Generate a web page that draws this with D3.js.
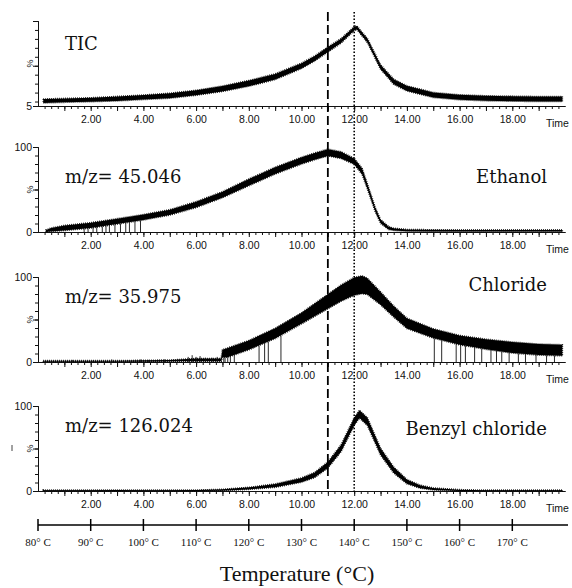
<html>
	<head>
		<script src="https://d3js.org/d3.v7.min.js"></script>
		<style>
			body { margin: 0; background: #fff; }
			svg text { fill: #111; }
		</style>
	</head>

	<body>
		<script>
			// retention time (min) and relative intensity (%)
			var ticTime   = [0.2, 1, 2, 3, 4, 5, 6, 7, 8, 9, 10, 10.5, 11, 11.5, 12, 12.1, 12.5, 13, 13.5, 14, 15, 16, 17, 18, 19, 19.9]
			var ticValue  = [10.6, 11.3, 12, 13.2, 14.7, 16.5, 19.8, 24.3, 30.3, 37.7, 49.9, 58.1, 68.1, 77.8, 91.5, 92.5, 78.2, 48.7, 32.1, 24.7, 17.3, 14.7, 13.6, 13.2, 12.8, 12.8]
			var ticSpread = [2.2, 2.2, 2.2, 2.5, 2.5, 2.8, 2.8, 3, 3.2, 3.2, 3, 2.8, 2.8, 2.5, 2.2, 2, 2.2, 2.5, 2.8, 2.8, 2.8, 2.8, 2.8, 2.8, 2.8, 2.8]

			var ethTime   = [0.3, 0.5, 1, 2, 3, 4, 5, 6, 7, 8, 9, 10, 10.5, 11, 11.5, 12, 12.3, 12.5, 12.8, 13, 13.3, 13.5, 14, 15, 16, 17, 18, 19, 19.9]
			var ethValue  = [0.8, 2.7, 4.7, 7.8, 12.5, 17.3, 23.1, 32.2, 43.9, 58.4, 72.2, 83.9, 89, 93.5, 90.5, 83.1, 71.4, 53.7, 26.3, 12.5, 4.7, 3.1, 2, 1.6, 1.5, 1.5, 1.5, 1.5, 1.5]
			var ethSpread = [1.5, 2, 3, 3.2, 3.2, 3.2, 3.2, 3.5, 3.5, 4, 4, 4, 4, 4, 4, 3.5, 3.5, 3, 2.5, 2.2, 1.8, 1.3, 1, 1, 1, 1, 1, 1, 1]
			var ethDrops  = [1.75, 1.9, 2.09, 2.23, 2.44, 2.58, 2.71, 2.92, 3.13, 3.33, 3.47, 3.68, 3.89]

			var clTime    = [0.2, 1, 2, 3, 4, 5, 5.5, 6, 6.5, 6.95, 7.0, 7.2, 8, 9, 10, 10.5, 11, 11.5, 12, 12.3, 12.5, 13, 13.5, 14, 15, 16, 17, 18, 19, 19.9]
			var clValue   = [1, 1, 1, 1, 1.2, 1.5, 2, 2.5, 2.5, 2.5, 10, 11.1, 19.8, 33.6, 51.4, 61.3, 71.1, 81, 88.9, 90.9, 88.9, 75, 59.3, 45.5, 33.6, 25.7, 20.9, 17, 14.6, 13.8]
			var clSpread  = [0.6, 0.6, 0.6, 0.6, 0.8, 0.8, 1.2, 1.6, 1.6, 1.6, 4.5, 5.5, 5.5, 6, 6.5, 7.5, 8.5, 9.5, 10.5, 10.5, 9.5, 7.5, 6.5, 6, 5.5, 5.5, 6, 6.5, 6.5, 6.5]
			var clDrops   = [7.05, 7.1, 7.2, 7.3, 7.45, 8.39, 8.6, 8.74, 9.22, 15.04, 15.32, 15.87, 16.04, 16.22, 16.57, 16.84, 17.19, 17.4, 17.6, 17.88, 18.23, 18.5, 18.9, 19.3, 19.6]
			var clBlipTime  = [1.3, 2.1, 2.8, 3.4, 3.9, 4.2, 4.8, 5.3, 5.7, 5.85, 6.0, 6.15, 6.35, 6.6, 6.8]
			var clBlipValue = [2.5, 2, 3, 2, 3, 2.5, 3, 3.5, 6, 8, 6, 7, 5, 5, 6]

			var bzTime    = [0.2, 1, 2, 3, 4, 5, 6, 7, 8, 9, 10, 10.5, 11, 11.5, 12, 12.2, 12.5, 13, 13.5, 14, 14.5, 15, 16, 17, 18, 19, 19.9]
			var bzValue   = [0.4, 0.4, 0.4, 0.6, 0.4, 0.4, 0.5, 1.2, 3.1, 6.3, 12.9, 18.8, 30.6, 50.2, 81.6, 90.5, 81.6, 46.3, 24.7, 11, 5.1, 2.4, 0.8, 0.4, 0.4, 0.4, 0.4]
			var bzSpread  = [0.6, 0.6, 0.6, 0.6, 0.6, 0.6, 0.6, 0.8, 1.2, 2, 2.5, 3, 3.5, 4, 4.5, 4.5, 4.5, 4, 3.5, 2.5, 1.8, 1.2, 0.8, 0.6, 0.6, 0.6, 0.6]

			var timeTicks  = [2, 4, 6, 8, 10, 12, 14, 16, 18]
			var tempTicks  = [80, 90, 100, 110, 120, 130, 140, 150, 160, 170]
			var markTimes  = [11, 12]   // dashed, dotted

			var series = [
				{time: ticTime, value: ticValue, spread: ticSpread, drops: [], yMin: 5, left: "TIC", right: ""},
				{time: ethTime, value: ethValue, spread: ethSpread, drops: ethDrops, yMin: 0, left: "m/z= 45.046", right: "Ethanol"},
				{time: clTime, value: clValue, spread: clSpread, drops: clDrops, yMin: 0, left: "m/z= 35.975", right: "Chloride"},
				{time: bzTime, value: bzValue, spread: bzSpread, drops: [], yMin: 0, left: "m/z= 126.024", right: "Benzyl chloride"}
			]

			var baselines = [106, 232, 362, 491]
			var labelBase = [50, 183, 303, 432]
			var rightBase = [0, 183, 291, 435]
			var ph = 85

			var svg = d3.select("body").append("svg")
				.attr("width", 572)
				.attr("height", 588)

			var x = d3.scaleLinear().domain([0, 20]).range([38, 565])

			series.forEach(function(s, i) {
				var b = baselines[i]
				var y = d3.scaleLinear().domain([s.yMin, 100]).range([b, b - ph])
				var g = svg.append("g")

				// x axis: minor ticks every 0.25 min, longer ones each minute
				g.append("g")
					.attr("transform", "translate(0," + b + ")")
					.call(d3.axisBottom(x).tickValues(d3.range(0.25, 20, 0.25)).tickSize(3).tickSizeOuter(0).tickFormat(""))
				g.append("g")
					.attr("transform", "translate(0," + b + ")")
					.call(d3.axisBottom(x).tickValues(d3.range(1, 20, 1)).tickSize(5).tickSizeOuter(0).tickPadding(4.5)
						.tickFormat(function(d) { return timeTicks.indexOf(d) >= 0 ? d.toFixed(2) : "" }))

				// y axis
				g.append("g")
					.attr("transform", "translate(38,0)")
					.call(d3.axisLeft(y).tickValues(d3.range(10, 100, 10)).tickSize(3).tickSizeOuter(5).tickFormat(""))
				g.append("g")
					.attr("transform", "translate(38,0)")
					.call(d3.axisLeft(y).tickValues([50]).tickSize(5).tickFormat(""))

				g.selectAll(".domain").attr("stroke", "#111")
				g.selectAll(".tick line").attr("stroke", "#111")
				g.selectAll(".tick text").attr("font-family", "Liberation Sans, Arial").attr("font-size", 10.5).attr("fill", "#222")

				g.append("text").attr("x", 32).attr("y", b + 4).attr("text-anchor", "end")
					.attr("font-family", "Liberation Sans, Arial").attr("font-size", 10.5).attr("fill", "#222")
					.text(s.yMin == 5 ? "5" : "0")
				if (s.yMin == 0) {
					g.append("text").attr("x", 32).attr("y", b - ph + 4).attr("text-anchor", "end")
						.attr("font-family", "Liberation Sans, Arial").attr("font-size", 10.5).attr("fill", "#222")
						.text("100")
				}
				g.append("text")
					.attr("transform", "translate(33," + (b - ph / 2) + ") rotate(-90)")
					.attr("text-anchor", "middle")
					.attr("font-family", "Liberation Sans, Arial").attr("font-size", 9).attr("fill", "#222")
					.text("%")
				g.append("text").attr("x", 546).attr("y", b + 21)
					.attr("font-family", "Liberation Sans, Arial").attr("font-size", 10.5).attr("fill", "#222")
					.text("Time")

				// trace as noisy band, ragged outline
				var area = d3.area()
					.x(function(d, j) { return x(s.time[j]) })
					.y0(function(d, j) { return y(Math.max(s.yMin, s.value[j] - s.spread[j])) })
					.y1(function(d, j) { return y(s.value[j] + s.spread[j]) })
				g.append("path")
					.datum(s.value)
					.attr("d", area)
					.attr("fill", "#000")
					.attr("stroke", "#000")
					.attr("stroke-width", 1.6)
					.attr("stroke-dasharray", "0.8,1.2")

				// signal dropouts down to the baseline
				var lower = d3.scaleLinear().domain(s.time).range(s.value.map(function(v, j) { return v - s.spread[j] }))
				g.selectAll(".drop").data(s.drops).enter().append("line")
					.attr("x1", function(d) { return x(d) }).attr("x2", function(d) { return x(d) })
					.attr("y1", y(s.yMin)).attr("y2", function(d) { return y(lower(d)) })
					.attr("stroke", "#111").attr("stroke-width", 0.9)

				if (i == 2) {
					g.selectAll(".blip").data(clBlipTime).enter().append("line")
						.attr("x1", function(d) { return x(d) }).attr("x2", function(d) { return x(d) })
						.attr("y1", y(0)).attr("y2", function(d, j) { return y(clBlipValue[j]) })
						.attr("stroke", "#111").attr("stroke-width", 0.9)
				}

				g.append("text").attr("x", 65).attr("y", labelBase[i])
					.attr("font-family", "DejaVu Serif").attr("font-size", 18)
					.text(s.left)
				if (s.right) {
					g.append("text").attr("x", 547).attr("y", rightBase[i]).attr("text-anchor", "end")
						.attr("font-family", "DejaVu Serif").attr("font-size", 18)
						.text(s.right)
				}
			})

			// stray mark left of the last panel
			svg.append("line").attr("x1", 12).attr("x2", 12).attr("y1", 445).attr("y2", 451)
				.attr("stroke", "#444").attr("stroke-width", 1)

			// reference lines at 11 and 12 min
			svg.selectAll(".mark").data(markTimes).enter().append("line")
				.attr("x1", function(d) { return x(d) }).attr("x2", function(d) { return x(d) })
				.attr("y1", 12).attr("y2", 492)
				.attr("stroke", "#000")
				.attr("stroke-width", function(d, i) { return i == 0 ? 1.8 : 1.6 })
				.attr("stroke-dasharray", function(d, i) { return i == 0 ? "9,4" : "1.5,1.8" })

			// temperature scale
			var temp = d3.scaleLinear().domain([80, 180]).range([38, 565])
			var ty = 525
			svg.append("line").attr("x1", 38).attr("x2", 568).attr("y1", ty).attr("y2", ty)
				.attr("stroke", "#000").attr("stroke-width", 1.5)
			svg.selectAll(".ttick").data(tempTicks).enter().append("line")
				.attr("x1", function(d) { return temp(d) }).attr("x2", function(d) { return temp(d) })
				.attr("y1", ty - 6).attr("y2", ty + 6)
				.attr("stroke", "#000").attr("stroke-width", 1.5)
			svg.selectAll(".tlab").data(tempTicks).enter().append("text")
				.attr("x", function(d) { return temp(d) }).attr("y", 546)
				.attr("text-anchor", "middle")
				.attr("font-family", "Liberation Serif, Times New Roman").attr("font-size", 11)
				.text(function(d) { return d + "\u00b0 C" })

			svg.append("text").attr("x", 297).attr("y", 581).attr("text-anchor", "middle")
				.attr("font-family", "Liberation Serif, Times New Roman").attr("font-size", 22)
				.text("Temperature (\u00b0C)")
		</script>
	</body>
</html>
